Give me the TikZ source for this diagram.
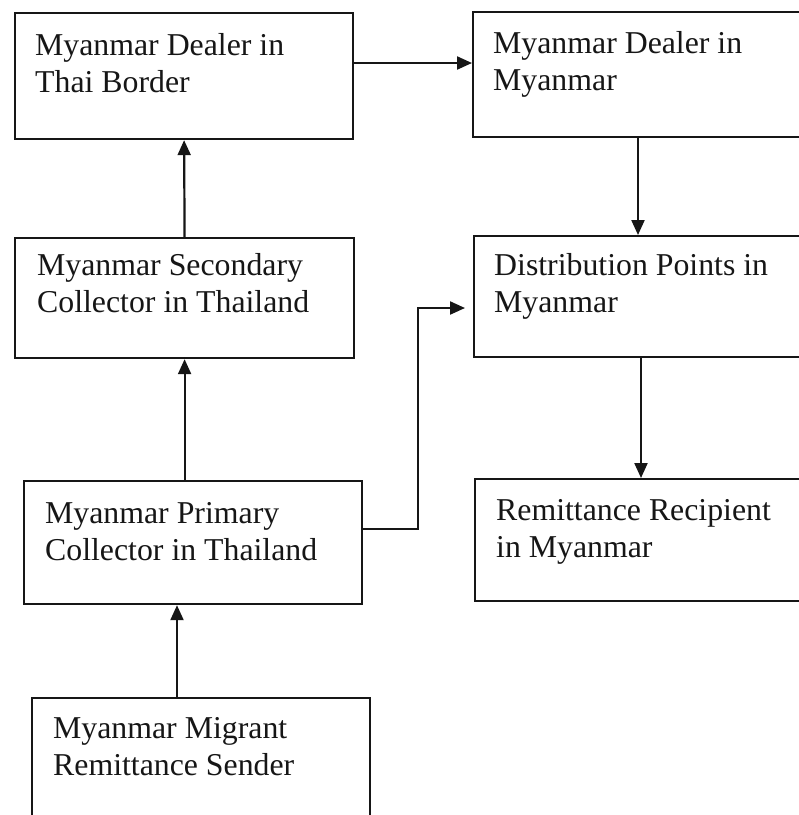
\documentclass[tikz,border=0pt]{standalone}
\usepackage{fontspec}
\setmainfont{Liberation Serif}
\usetikzlibrary{arrows.meta,calc}
\definecolor{ink}{HTML}{161616}
\begin{document}
\begin{tikzpicture}[x=1pt,y=-1pt,
  boxstyle/.style={draw=ink, line width=2.2pt, rectangle, inner sep=0pt, anchor=north west},
  lbl/.style={anchor=base west, inner sep=0pt, text=ink, font=\fontsize{31.8}{37}\selectfont},
  arr/.style={draw=ink, line width=2.2pt, -{Triangle[length=15pt,width=13pt]}}]
\useasboundingbox (0,0) rectangle (799,815);
\fill[white] (0,0) rectangle (799,815);
% boxes
\node[boxstyle, minimum width=338pt, minimum height=126pt] (b1) at (14,12) {};
\node[boxstyle, minimum width=340pt, minimum height=125pt] (b2) at (472,11) {};
\node[boxstyle, minimum width=339pt, minimum height=120pt] (b3) at (14,237) {};
\node[boxstyle, minimum width=340pt, minimum height=121pt] (b4) at (473,235) {};
\node[boxstyle, minimum width=338pt, minimum height=123pt] (b5) at (23,480) {};
\node[boxstyle, minimum width=340pt, minimum height=122pt] (b6) at (474,478) {};
\node[boxstyle, minimum width=338pt, minimum height=130pt] (b7) at (31,697) {};
% labels
\node[lbl] (t1) at ($(b1.north west)+(21,43)$) {\parbox[t]{320pt}{Myanmar Dealer in\\Thai Border}};
\node[lbl] (t2) at ($(b2.north west)+(21,42)$) {\parbox[t]{320pt}{Myanmar Dealer in\\Myanmar}};
\node[lbl] (t3) at ($(b3.north west)+(23,38)$) {\parbox[t]{320pt}{Myanmar Secondary\\Collector in Thailand}};
\node[lbl] (t4) at ($(b4.north west)+(21,40)$) {\parbox[t]{320pt}{Distribution Points in\\Myanmar}};
\node[lbl] (t5) at ($(b5.north west)+(22,43)$) {\parbox[t]{320pt}{Myanmar Primary\\Collector in Thailand}};
\node[lbl] (t6) at ($(b6.north west)+(22,42)$) {\parbox[t]{320pt}{Remittance Recipient\\in Myanmar}};
\node[lbl] (t7) at ($(b7.north west)+(22,41)$) {\parbox[t]{320pt}{Myanmar Migrant\\Remittance Sender}};
% connectors
\coordinate (p) at ($(b1.north east)+(0,51)$);
\draw[arr] (p) -- (p -| b2.west);
\draw[arr] (b3.north) -- (b1.south);
\draw[arr] (b3.south |- b5.north) -- (b3.south);
\coordinate (q) at ($(b5.south west)+(154,0)$);
\draw[arr] (q |- b7.north) -- (q);
\coordinate (r) at ($(b2.south west)+(166,0)$);
\draw[arr] (r) -- (r |- b4.north);
\coordinate (s) at ($(b4.south west)+(168,0)$);
\draw[arr] (s) -- (s |- b6.north);
\coordinate (e1) at ($(b5.north east)+(0,49)$);
\coordinate (e2) at ($(b4.north west)+(0,73)$);
\draw[arr, shorten >=8pt] (e1) -- ++(55,0) |- (e2);
\end{tikzpicture}
\end{document}
